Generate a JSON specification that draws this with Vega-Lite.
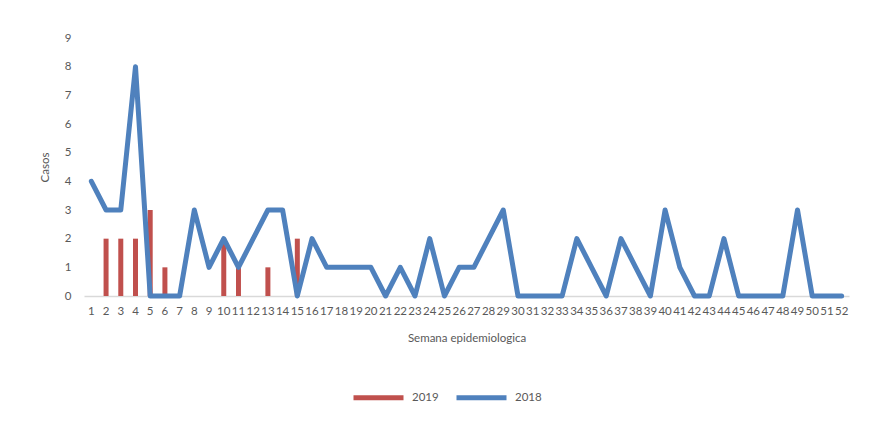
{
  "$schema": "https://vega.github.io/schema/vega-lite/v6.json",
  "width": 765,
  "height": 258,
  "autosize": "none",
  "padding": {"left": 84, "top": 38, "right": 22, "bottom": 127},
  "background": "white",
  "config": {
    "view": {"stroke": null},
    "font": "Lato",
    "axis": {"labelFont": "Lato", "titleFont": "Lato", "labelColor": "#595959", "titleColor": "#595959", "labelFontSize": 11.5, "titleFontSize": 11.5, "titleFontWeight": "normal", "grid": false, "ticks": false, "labelOverlap": false}
  },
  "data": {"values": [
    {"semana":1,"serie":"2018","casos":4},{"semana":2,"serie":"2018","casos":3},{"semana":3,"serie":"2018","casos":3},{"semana":4,"serie":"2018","casos":8},
    {"semana":5,"serie":"2018","casos":0},{"semana":6,"serie":"2018","casos":0},{"semana":7,"serie":"2018","casos":0},{"semana":8,"serie":"2018","casos":3},
    {"semana":9,"serie":"2018","casos":1},{"semana":10,"serie":"2018","casos":2},{"semana":11,"serie":"2018","casos":1},{"semana":12,"serie":"2018","casos":2},
    {"semana":13,"serie":"2018","casos":3},{"semana":14,"serie":"2018","casos":3},{"semana":15,"serie":"2018","casos":0},{"semana":16,"serie":"2018","casos":2},
    {"semana":17,"serie":"2018","casos":1},{"semana":18,"serie":"2018","casos":1},{"semana":19,"serie":"2018","casos":1},{"semana":20,"serie":"2018","casos":1},
    {"semana":21,"serie":"2018","casos":0},{"semana":22,"serie":"2018","casos":1},{"semana":23,"serie":"2018","casos":0},{"semana":24,"serie":"2018","casos":2},
    {"semana":25,"serie":"2018","casos":0},{"semana":26,"serie":"2018","casos":1},{"semana":27,"serie":"2018","casos":1},{"semana":28,"serie":"2018","casos":2},
    {"semana":29,"serie":"2018","casos":3},{"semana":30,"serie":"2018","casos":0},{"semana":31,"serie":"2018","casos":0},{"semana":32,"serie":"2018","casos":0},
    {"semana":33,"serie":"2018","casos":0},{"semana":34,"serie":"2018","casos":2},{"semana":35,"serie":"2018","casos":1},{"semana":36,"serie":"2018","casos":0},
    {"semana":37,"serie":"2018","casos":2},{"semana":38,"serie":"2018","casos":1},{"semana":39,"serie":"2018","casos":0},{"semana":40,"serie":"2018","casos":3},
    {"semana":41,"serie":"2018","casos":1},{"semana":42,"serie":"2018","casos":0},{"semana":43,"serie":"2018","casos":0},{"semana":44,"serie":"2018","casos":2},
    {"semana":45,"serie":"2018","casos":0},{"semana":46,"serie":"2018","casos":0},{"semana":47,"serie":"2018","casos":0},{"semana":48,"serie":"2018","casos":0},
    {"semana":49,"serie":"2018","casos":3},{"semana":50,"serie":"2018","casos":0},{"semana":51,"serie":"2018","casos":0},{"semana":52,"serie":"2018","casos":0},
    {"semana":2,"serie":"2019","casos":2},{"semana":3,"serie":"2019","casos":2},{"semana":4,"serie":"2019","casos":2},{"semana":5,"serie":"2019","casos":3},
    {"semana":6,"serie":"2019","casos":1},{"semana":10,"serie":"2019","casos":2},{"semana":11,"serie":"2019","casos":1},{"semana":13,"serie":"2019","casos":1},
    {"semana":15,"serie":"2019","casos":2}
  ]},
  "encoding": {
    "x": {"field": "semana", "type": "ordinal", "title": "Semana epidemiologica",
      "scale": {"paddingInner": 0, "paddingOuter": 0},
      "axis": {"labelAngle": 0, "domainColor": "#d9d9d9", "domainWidth": 1.5, "labelPadding": 9, "titlePadding": 16}},
    "y": {"field": "casos", "type": "quantitative", "title": "Casos",
      "scale": {"domain": [0, 9]},
      "axis": {"domain": false, "values": [0,1,2,3,4,5,6,7,8,9], "labelPadding": 13, "titlePadding": 14}},
    "color": {"field": "serie", "type": "nominal",
      "scale": {"domain": ["2019", "2018"], "range": ["#C0504D", "#4F81BD"]},
      "legend": {"title": null, "orient": "none", "direction": "horizontal", "legendX": 267, "legendY": 332,
        "symbolType": "stroke", "symbolSize": 2500, "symbolStrokeWidth": 5, "labelFontSize": 11.5, "labelColor": "#595959", "columnPadding": 7, "labelOffset": 6,
        "encode": {"symbols": {"update": {"stroke": {"scale": "color", "field": "value"}}}}}}
  },
  "layer": [
    {"transform": [{"filter": "datum.serie == '2019'"}], "mark": {"type": "bar", "width": 5}},
    {"transform": [{"filter": "datum.serie == '2018'"}], "mark": {"type": "line", "strokeWidth": 5, "strokeJoin": "round", "strokeCap": "round"},
      "encoding": {"x": {"field": "semana", "type": "ordinal", "bandPosition": 0.5}}}
  ]
}
